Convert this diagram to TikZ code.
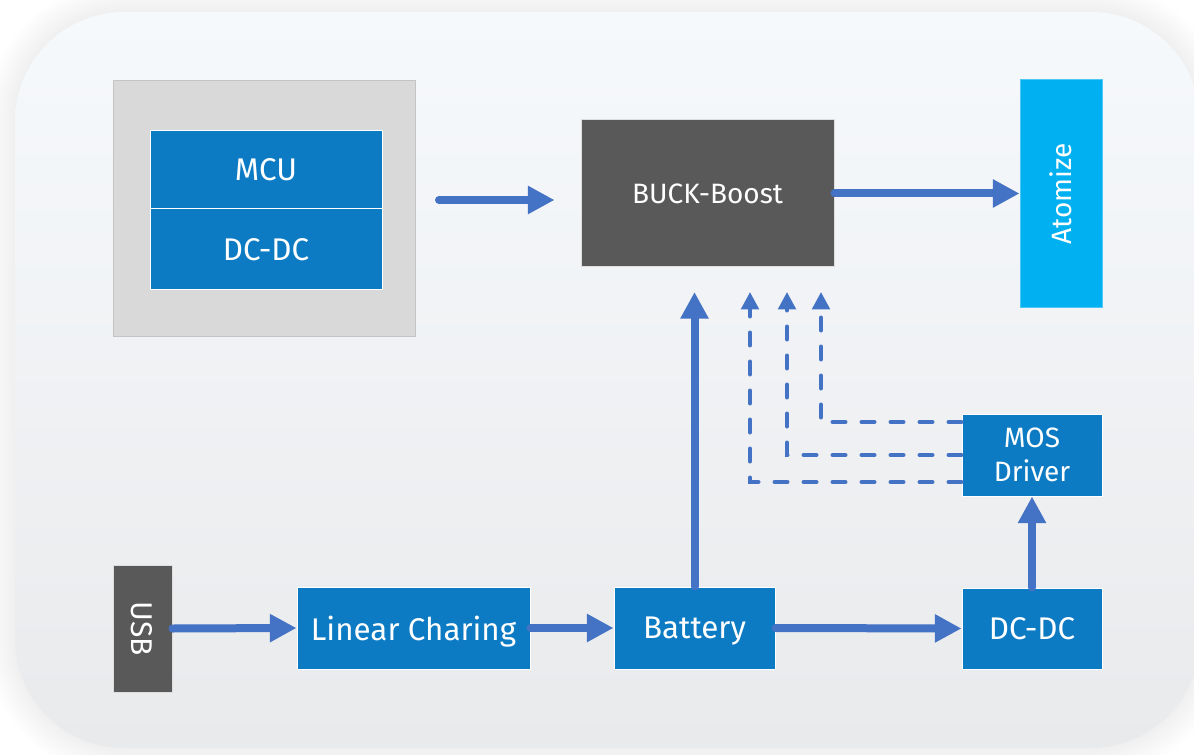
\documentclass[tikz,border=0pt]{standalone}
\usepackage{fontspec}
\setmainfont{Fira Sans}
\usetikzlibrary{arrows.meta}
\definecolor{bblue}{HTML}{0C7BC3}
\definecolor{dgray}{HTML}{595959}
\definecolor{lgray}{HTML}{D9D9D9}
\definecolor{grpline}{HTML}{C4C4C4}
\definecolor{cyanb}{HTML}{00B0F0}
\definecolor{arrblue}{HTML}{4472C4}
\definecolor{cardtop}{HTML}{F6F9FC}
\definecolor{cardmid}{HTML}{F2F5F8}
\definecolor{cardbot}{HTML}{E9EAEC}
\begin{document}
\begin{tikzpicture}[x=0.75pt,y=-0.75pt,
  box/.style={fill=bblue, draw=white, line width=0.75pt, text=white, inner sep=0pt,
    text depth=0pt, font=\fontsize{23.5}{27}\selectfont},
  dbox/.style={box, fill=dgray, draw=white!80!dgray},
  arr/.style={draw=arrblue, line width=6pt, line cap=round,
    -{Triangle[length=20pt,width=20pt]}},
  darr/.style={draw=arrblue, line width=3pt, line cap=round,
    dash pattern=on 9.75pt off 12pt, -{Triangle[length=13pt,width=13pt]}}]

\useasboundingbox (0,0) rectangle (1194,755);
\fill[white] (0,0) rectangle (1194,755);
% soft shadow around the card
\foreach \i in {1,...,15}{
  \fill[black, opacity=0.005, rounded corners=82pt+1.5pt*\i]
    (15-2*\i,12-2*\i) rectangle (1200+2*\i,748+2*\i);
}
% card
\shade[top color=cardtop, middle color=cardmid, bottom color=cardbot, rounded corners=82pt]
  (15,12) rectangle (1200,748);

% MCU group
\node[fill=lgray, draw=grpline, line width=0.75pt, inner sep=0pt,
  minimum width=226.5pt, minimum height=191.25pt] (grp) at (264,208.5) {};
\node[box, minimum width=174pt, minimum height=58.5pt] (mcu) at (266,170) {MCU};
\node[box, minimum width=174pt, minimum height=60.75pt] (dcdc1) at (266,249.5) {DC-DC};

% BUCK-Boost
\node[dbox, minimum width=189.75pt, minimum height=110.25pt,
  font=\fontsize{21}{24}\selectfont] (buck) at (707.5,193.5) {BUCK-Boost};

% Atomize
\node[box, fill=cyanb, draw=cyanb!70!white, rotate=90, minimum width=170.25pt, minimum height=61.5pt,
  font=\fontsize{21}{24}\selectfont] (atom) at (1061,193.5) {Atomize};

% MOS Driver
\node[box, text depth=, minimum width=105pt, minimum height=61.5pt, align=center,
  font=\fontsize{21}{26}\selectfont] (mos) at (1032,455) {MOS\\Driver};

% bottom row
\node[dbox, rotate=-90, minimum width=95.25pt, minimum height=44.25pt,
  font=\fontsize{22.5}{25}\selectfont] (usb) at (142.5,628.5) {USB};
\node[box, minimum width=174.75pt, minimum height=61.5pt] (lin) at (413.5,628) {Linear Charing};
\node[box, minimum width=120.75pt, minimum height=61.5pt] (bat) at (694.5,628) {Battery};
\node[box, minimum width=105pt, minimum height=60.75pt] (dcdc2) at (1032,628.5) {DC-DC};

% connectors
\coordinate (a1) at (439,200);
\coordinate (tip) at (0,292);
\coordinate (d1) at (821,292);
\coordinate (d2) at (787,292);
\coordinate (d3) at (750,292);

\draw[arr, shorten >=19.5pt] (a1) -- (a1 -| buck.west);
\draw[arr] (buck.east) -- (atom.north);
\draw[arr] (bat.north) -- (bat.north |- tip);
\draw[arr] (usb.north) -- (lin.west);
\draw[arr] (lin.east) -- (bat.west);
\draw[arr] (bat.east) -- (dcdc2.west);
\draw[arr] (dcdc2.north) -- (mos.south);

\draw[darr] ([yshift=24.75pt]mos.west) -| (d1);
\draw[darr] (mos.west) -| (d2);
\draw[darr] ([yshift=-20.25pt]mos.west) -| (d3);
\end{tikzpicture}
\end{document}
